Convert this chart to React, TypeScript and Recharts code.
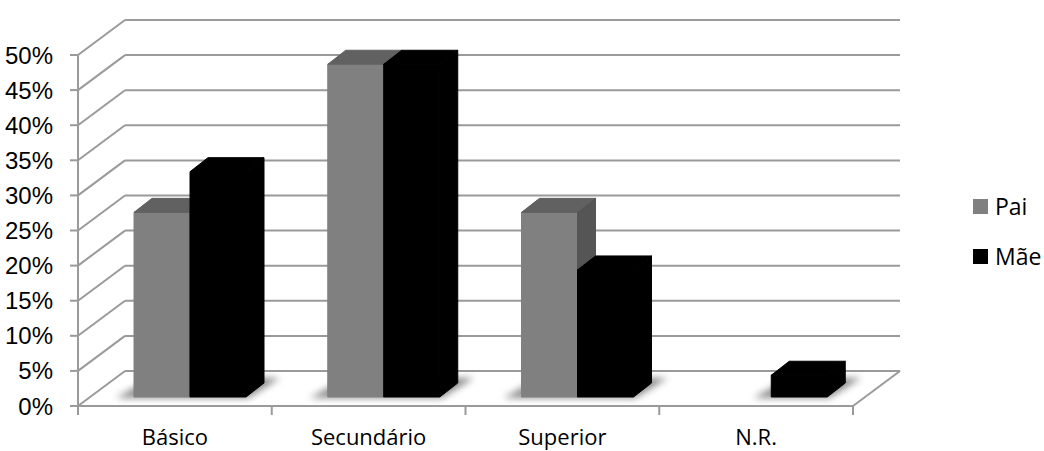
import React from 'react';
import { BarChart, Bar, XAxis, YAxis, CartesianGrid, Legend } from 'recharts';

const categories = ['Básico', 'Secundário', 'Superior', 'N.R.'];
const paiValues = [26.3, 47.4, 26.3, 0];
const maeValues = [32.1, 47.4, 18.1, 3.1];
const yTicks = [0, 5, 10, 15, 20, 25, 30, 35, 40, 45, 50];
const seriesNames = ['Pai', 'Mãe'];

const data = categories.map((categoria, i) => ({
  categoria,
  pai: paiValues[i],
  mae: maeValues[i],
}));

// front plane of the plot (the floor's front edge and the value axis)
const PLOT = { left: 78, top: 55, right: 853, bottom: 406 };
const WIDTH = 1044;
const HEIGHT = 451;
const Y_AXIS_W = 60;
const X_AXIS_H = 30;

// oblique depth of the back wall, of each box, and of the row the boxes stand in
const WALL_DX = 47;
const WALL_DY = -35;
const BAR_DX = 18;
const BAR_DY = -14;
const ROW_DX = 15;
const ROW_DY = -9;

const GRID = '#9a9a9a';
const AXIS_FONT = '"Liberation Sans Narrow", "Liberation Sans", Arial, sans-serif';
const LABEL_FONT = '"Open Sans", "Noto Sans", sans-serif';

const FACES: Record<string, { front: string; top: string; side: string }> = {
  pai: { front: '#808080', top: '#616161', side: '#555555' },
  mae: { front: '#000000', top: '#000000', side: '#000000' },
};
const LEGEND_COLORS: Record<string, string> = { Pai: '#808080', 'Mãe': '#000000' };

function WallLine(props: any) {
  const { x1, x2, y1 } = props;
  const isFloor = Math.abs(y1 - PLOT.bottom) < 1;
  return (
    <g>
      <line x1={x1} y1={y1} x2={x1 + WALL_DX} y2={y1 + WALL_DY} stroke={GRID} strokeWidth={2} />
      <line
        x1={x1 + WALL_DX}
        y1={y1 + WALL_DY}
        x2={x2 + WALL_DX}
        y2={y1 + WALL_DY}
        stroke={GRID}
        strokeWidth={2}
      />
      {isFloor && (
        <line x1={x2} y1={y1} x2={x2 + WALL_DX} y2={y1 + WALL_DY} stroke={GRID} strokeWidth={2} />
      )}
    </g>
  );
}

function boxShape(series: 'pai' | 'mae') {
  return (props: any) => {
    const { x, y, width, height, payload, index } = props;
    const c = FACES[series];
    const fx = x + ROW_DX;
    const fy = y + ROW_DY;
    const base = fy + height;

    // Pai casts the shadow for the whole pair, Mãe only when it stands alone
    let shadow: [number, number] | null = null;
    if (series === 'pai' && height > 0) shadow = [fx, fx + width * (payload.mae > 0 ? 2 : 1)];
    if (series === 'mae' && !(payload.pai > 0) && height > 0) shadow = [fx, fx + width];
    const fid = `floor-shadow-${series}-${index}`;

    return (
      <g>
        {shadow && (
          <>
            <defs>
              <filter id={fid} x="-30%" y="-100%" width="160%" height="300%">
                <feGaussianBlur stdDeviation={3.5} />
              </filter>
            </defs>
            <polygon
              points={`${shadow[0] - 18},${base + 1} ${shadow[1] + 2},${base + 1} ${shadow[1] + BAR_DX + 16},${base + BAR_DY - 5} ${shadow[0] + BAR_DX},${base + BAR_DY - 5}`}
              fill="#5a5a5a"
              opacity={0.7}
              filter={`url(#${fid})`}
            />
          </>
        )}
        {height > 0 && (
          <g strokeLinejoin="round" strokeWidth={1}>
            <rect x={fx} y={fy} width={width} height={height} fill={c.front} stroke={c.front} />
            <polygon
              points={`${fx},${fy} ${fx + BAR_DX},${fy + BAR_DY} ${fx + width + BAR_DX},${fy + BAR_DY} ${fx + width},${fy}`}
              fill={c.top}
              stroke={c.top}
            />
            <polygon
              points={`${fx + width},${fy} ${fx + width + BAR_DX},${fy + BAR_DY} ${fx + width + BAR_DX},${base + BAR_DY} ${fx + width},${base}`}
              fill={c.side}
              stroke={c.side}
            />
          </g>
        )}
      </g>
    );
  };
}

function CategoryTick(props: any) {
  const { payload } = props;
  const half = (PLOT.right - PLOT.left) / categories.length / 2;
  const cx = payload.coordinate;
  return (
    <g>
      {payload.index === 0 && (
        <line x1={cx - half} y1={PLOT.bottom} x2={cx - half} y2={PLOT.bottom + 9} stroke={GRID} strokeWidth={2} />
      )}
      <line x1={cx + half} y1={PLOT.bottom} x2={cx + half} y2={PLOT.bottom + 9} stroke={GRID} strokeWidth={2} />
      <text
        x={cx}
        y={PLOT.bottom + 39}
        textAnchor="middle"
        fill="#000"
        fontSize={22}
        fontFamily={LABEL_FONT}
      >
        {payload.value}
      </text>
    </g>
  );
}

function SeriesLegend() {
  return (
    <div style={{ fontFamily: LABEL_FONT, fontSize: 23, color: '#000' }}>
      {seriesNames.map((name) => (
        <div key={name} style={{ display: 'flex', alignItems: 'center', height: 50 }}>
          <span
            style={{ display: 'inline-block', width: 15, height: 15, background: LEGEND_COLORS[name], marginRight: 7 }}
          />
          <span>{name}</span>
        </div>
      ))}
    </div>
  );
}

export default function App() {
  return (
    <div style={{ position: 'absolute', left: 0, top: 0, background: '#fff' }}>
      <BarChart
        width={WIDTH}
        height={HEIGHT}
        data={data}
        barGap={0}
        barSize={56}
        margin={{
          top: PLOT.top,
          right: WIDTH - PLOT.right,
          bottom: HEIGHT - PLOT.bottom - X_AXIS_H,
          left: PLOT.left - Y_AXIS_W,
        }}
      >
        <CartesianGrid vertical={false} horizontal={(p: any) => <WallLine key={p.key} {...p} />} />
        <XAxis
          dataKey="categoria"
          height={X_AXIS_H}
          axisLine={{ stroke: GRID, strokeWidth: 2 }}
          tickLine={false}
          tick={<CategoryTick />}
          interval={0}
        />
        <YAxis
          width={Y_AXIS_W}
          domain={[0, 50]}
          ticks={yTicks}
          tickFormatter={(v: number) => `${v}%`}
          axisLine={{ stroke: GRID, strokeWidth: 2 }}
          tickLine={{ stroke: GRID, strokeWidth: 2 }}
          tickSize={8}
          tickMargin={17}
          tick={{ fill: '#000', fontSize: 24, fontFamily: AXIS_FONT }}
        />
        <Legend
          layout="vertical"
          align="center"
          verticalAlign="middle"
          content={<SeriesLegend />}
          wrapperStyle={{ left: 973, top: 181, width: 80 }}
        />
        <Bar dataKey="pai" name="Pai" fill="#808080" shape={boxShape('pai')} isAnimationActive={false} />
        <Bar dataKey="mae" name="Mãe" fill="#000000" shape={boxShape('mae')} isAnimationActive={false} />
      </BarChart>
    </div>
  );
}
